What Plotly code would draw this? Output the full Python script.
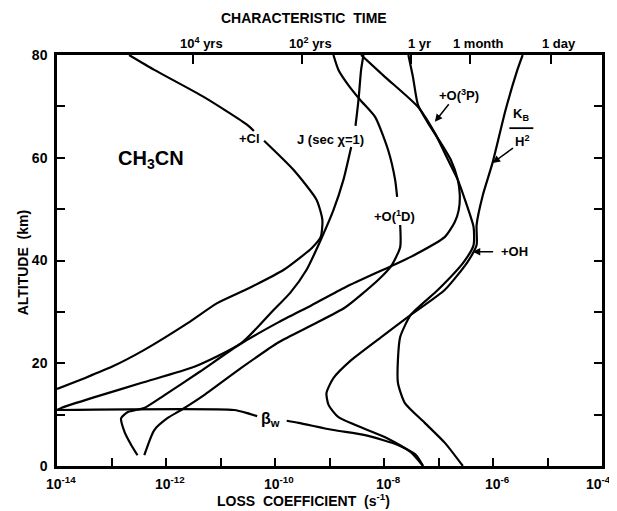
import math
import plotly.graph_objects as go

# ---- data (loss coefficient in s^-1, altitude in km); None = break for a label ----
cl_k = [2.1e-13, 6.1e-13, 5.0e-12, 3.1e-11, 4.1e-11, None, 6.3e-11, 2.2e-10, 5.8e-10, 7.4e-10, 6.9e-10,
        4.7e-10, 3.0e-10, 1.45e-10, 3.3e-11, 8.7e-12, 2.5e-12, 4.0e-13, 1.01e-13, 3.2e-14, 1.0e-14]
cl_alt = [80, 77.1, 71.8, 66.4, 65.2, None, 63.3, 57.6, 51.8, 47.9, 44.6,
          42.4, 40.7, 38.2, 34.6, 31.7, 27.8, 22.6, 19.3, 17.1, 15.0]

j_k = [4.2e-9, 3.8e-9, 3.4e-9, 3.0e-9, None, 2.5e-9, 1.8e-9, 1.18e-9, 6.9e-10, 3.8e-10, 1.9e-10,
       9.5e-11, 2.4e-11, 3.3e-12, 3.6e-13, 4.9e-14, 1.2e-14, 1.0e-14]
j_alt = [80, 77.1, 71.2, 66.2, None, 62.1, 55.7, 49.8, 44.0, 38.2, 33.7,
         30.4, 23.9, 19.3, 16.2, 13.4, 11.3, 10.9]

o1d_k = [1.18e-9, 1.46e-9, 2.2e-9, 3.7e-9, 6.9e-9, 1.19e-8, 1.6e-8, 1.74e-8, None, 1.98e-8, 1.98e-8,
         1.35e-8, 7.8e-9, 1.96e-9, 4.7e-10, 1.17e-10, 2.4e-11, 5.0e-12, 1.9e-12, 1.06e-12, 6.1e-13, 4.0e-13]
o1d_alt = [80, 77.1, 74.2, 71.2, 67.9, 61.5, 55.7, 52.4, None, 46.9, 42.6,
           38.9, 36.2, 30.9, 27.4, 24.1, 19.1, 13.8, 10.9, 9.3, 7.0, 2.1]

o3p_k = [2.8e-8, 3.4e-8, 4.2e-8, 6.4e-8, 1.1e-7, 1.68e-7, 2.26e-7, 2.46e-7, 2.35e-7, 1.99e-7, 1.31e-7,
         3.1e-8, 1.35e-8, 1.96e-9, 4.7e-10, 1.17e-10, 2.2e-11, 4.1e-12, 9.4e-13, 4.0e-13, 2.0e-13,
         1.5e-13, 1.74e-13, 2.3e-13, 3.0e-13]
o3p_alt = [80, 75.7, 70.3, 66.8, 62.9, 59.6, 55.7, 52.7, 49.8, 47.5, 44.6,
           40.7, 38.9, 34.8, 31.3, 28.0, 23.6, 18.3, 13.8, 11.3, 10.5,
           9.3, 6.6, 4.1, 2.1]

oh_k = [3.8e-9, 1.05e-8, 4.2e-8, 8.6e-8, 1.49e-7, 2.26e-7, 3.2e-7, 4.4e-7, 4.4e-7, 2.9e-7, 9.8e-8,
        3.1e-8, 1.98e-8, 1.8e-8, 1.8e-8, 2.4e-8, 5.6e-8, 1.31e-7, 2.8e-7]
oh_alt = [80, 75.7, 69.9, 64.8, 59.6, 55.7, 51.2, 46.5, 43.0, 39.7, 34.3,
          29.4, 25.1, 20.6, 16.2, 12.3, 8.4, 4.5, 0]

kh_k = [3.5e-6, 2.8e-6, 1.7e-6, 9.8e-7, 6.5e-7, 5.0e-7, 5.0e-7, 3.4e-7, 1.31e-7, 3.1e-8, 8.9e-9,
        2.5e-9, 1.18e-9, 8.8e-10, 9.6e-10, 1.46e-9, 1.05e-8, 3.1e-8, 5.2e-8]
kh_alt = [80, 77.1, 69.3, 59.0, 52.7, 46.9, 43.0, 39.7, 34.3, 29.4, 25.1,
          20.6, 17.1, 14.2, 11.9, 9.5, 5.6, 2.7, 0]

bw_k = [1.0e-14, 1.77e-11, 3.1e-11, 4.7e-11, None, 1.64e-10, 2.7e-10, 1.18e-9, 4.5e-9, 1.8e-8, 3.9e-8, 5.2e-8]
bw_alt = [10.9, 10.9, 10.3, 9.7, None, 8.8, 8.4, 7.0, 6.0, 4.1, 2.1, 0]

x_decades = [1e-14, 1e-13, 1e-12, 1e-11, 1e-10, 1e-9, 1e-8, 1e-7, 1e-6, 1e-5, 1e-4]
x_label_exp = [-14, -12, -10, -8, -6, -4]
y_ticks = [0, 10, 20, 30, 40, 50, 60, 70, 80]
y_labels = ["0", "", "20", "", "40", "", "60", "", "80"]
time_seconds = [3.156e11, 3.156e9, 3.156e7, 2.592e6, 8.64e4]
time_labels = ["10<sup>4</sup> yrs", "10<sup>2</sup> yrs", "1 yr", "1 month", "1 day"]

FONT = "Liberation Sans"
BOLD = dict(family=FONT, color="black", weight="bold")

fig = go.Figure()
for xs, ys in [(cl_k, cl_alt), (j_k, j_alt), (o1d_k, o1d_alt), (o3p_k, o3p_alt),
               (oh_k, oh_alt), (kh_k, kh_alt), (bw_k, bw_alt)]:
    fig.add_trace(go.Scatter(x=xs, y=ys, mode="lines", connectgaps=False,
                             line=dict(color="black", width=2.2, shape="spline", smoothing=0.6),
                             showlegend=False, hoverinfo="skip"))

# invisible trace to activate the top axis
fig.add_trace(go.Scatter(x=[1e-14, 1e-4], y=[40, 40], xaxis="x2", mode="markers",
                         marker=dict(opacity=0), showlegend=False, hoverinfo="skip"))

axis_common = dict(showgrid=False, zeroline=False, linecolor="black", linewidth=2.5,
                   ticks="inside", tickcolor="black", tickwidth=1.8, ticklen=8)

# the page body adds an 8 px offset, so the figure is 8 px smaller than the window
fig.update_layout(
    width=609, height=503,
    margin=dict(l=49, r=12, t=47, b=45),
    plot_bgcolor="white", paper_bgcolor="white",
    xaxis=dict(type="log", range=[-14, -4], tickvals=x_decades, showticklabels=False,
               showline=True, mirror=True, **axis_common),
    xaxis2=dict(type="log", range=[-14, -4], overlaying="x", side="top", anchor="y",
                tickvals=[1.0 / t for t in time_seconds], showticklabels=False,
                showgrid=False, zeroline=False, showline=False,
                ticks="inside", tickcolor="black", tickwidth=1.8, ticklen=9),
    yaxis=dict(range=[0, 80], tickvals=y_ticks, ticktext=y_labels,
               showline=True, mirror="ticks", ticklabelstandoff=4,
               tickfont=dict(size=14, **BOLD), **axis_common),
)

# bottom tick labels
for e in x_label_exp:
    last = (e == x_label_exp[-1])
    fig.add_annotation(text="10<sup>%d</sup>" % e, x=e, y=-0.042, xref="x", yref="paper",
                       showarrow=False, xanchor="right" if last else "center",
                       xshift=11 if last else 4, yanchor="middle",
                       font=dict(size=14, **BOLD))

# top (characteristic time) tick labels
for t, lab in zip(time_seconds, time_labels):
    fig.add_annotation(text=lab, x=-math.log10(t), y=1.028, xref="x", yref="paper",
                       showarrow=False, xshift=8, yanchor="middle",
                       font=dict(size=13, **BOLD))

def txt(text, x, y, size=13, **kw):
    fig.add_annotation(text=text, x=x, y=y, xref="x", yref="y", showarrow=False,
                       font=dict(size=size, **BOLD), **kw)

txt("CH<sub>3</sub>CN", -12.27, 59.6, size=20)
txt("+Cl", -10.46, 63.8)
txt("J (sec χ=1)", -8.98, 63.6)
txt("+O(<sup>3</sup>P)", -6.63, 72.2)
txt("+O(<sup>1</sup>D)", -7.81, 48.7)
txt("+OH", -5.60, 41.7)
txt("β<sub>w</sub>", -10.08, 9.1, size=16)
txt("K<sub>B</sub>", -5.48, 68.4)
txt("H<sup>2</sup>", -5.46, 63.3)
fig.add_shape(type="line", xref="paper", yref="paper", x0=0.830, x1=0.874, y0=0.822, y1=0.822,
              line=dict(color="black", width=1.8))

def arrow(xt, yt, xa, ya):
    fig.add_annotation(text="", x=xt, y=yt, ax=xa, ay=ya, xref="x", yref="y", axref="x", ayref="y",
                       showarrow=True, arrowhead=2, arrowsize=1, arrowwidth=1.5, arrowcolor="black")

arrow(-7.066, 67.0, -6.79, 70.7)
arrow(-6.007, 59.0, -5.606, 62.1)
arrow(-6.372, 41.7, -5.97, 41.7)

def ptxt(text, x, y, size=14, angle=0):
    fig.add_annotation(text=text, x=x, y=y, xref="paper", yref="paper", showarrow=False,
                       textangle=angle, xanchor="center", yanchor="middle",
                       font=dict(size=size, **BOLD))

ptxt("CHARACTERISTIC  TIME", 0.4526, 1.090)
ptxt("LOSS  COEFFICIENT  (s<sup>-1</sup>)", 0.4526, -0.083)
ptxt("ALTITUDE  (km)", -0.062, 0.496, angle=-90)

fig.write_html("out.html")
